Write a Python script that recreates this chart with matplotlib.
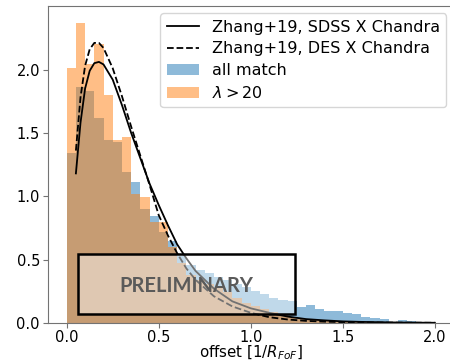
import numpy as np
import matplotlib
matplotlib.use('Agg')
import matplotlib.pyplot as plt
from matplotlib.patches import Rectangle

# histogram bins: 0 .. 2.0, width 0.05 (density values)
bin_edges = np.linspace(0.0, 2.0, 41)
all_match = [1.34, 1.86, 1.83, 1.62, 1.44, 1.43, 1.19, 1.11, 0.90, 0.84,
             0.72, 0.645, 0.53, 0.46, 0.42, 0.39, 0.36, 0.34, 0.31, 0.28,
             0.25, 0.225, 0.20, 0.18, 0.17, 0.124, 0.142, 0.108, 0.094, 0.094,
             0.081, 0.068, 0.045, 0.04, 0.029, 0.01, 0.024, 0.016, 0.008, 0.005]
lam20 = [2.01, 2.37, 2.045, 2.20, 1.80, 1.44, 1.47, 1.02, 0.99, 0.80,
         0.80, 0.60, 0.47, 0.38, 0.34, 0.31, 0.28, 0.24, 0.20, 0.16,
         0.13, 0.11, 0.09, 0.06, 0.045, 0.03, 0.025, 0.02, 0.015, 0.01,
         0.008, 0.006, 0.004, 0.003, 0.002, 0.002, 0.0, 0.0, 0.0, 0.0]

# Zhang+19 model curves
model_x = [0.05, 0.075, 0.10, 0.125, 0.15, 0.175, 0.20, 0.25, 0.30, 0.35,
           0.40, 0.45, 0.50, 0.55, 0.60, 0.65, 0.70, 0.80, 0.90, 1.00,
           1.10, 1.20, 1.30, 1.40, 1.50, 1.60, 1.80, 2.00]
sdss_y = [1.18, 1.58, 1.85, 1.99, 2.05, 2.06, 2.04, 1.92, 1.72, 1.50,
          1.30, 1.10, 0.93, 0.77, 0.62, 0.51, 0.41, 0.27, 0.17, 0.115,
          0.08, 0.05, 0.03, 0.02, 0.012, 0.008, 0.003, 0.001]
des_y = [1.36, 1.78, 2.03, 2.16, 2.21, 2.21, 2.17, 2.01, 1.79, 1.55,
         1.32, 1.09, 0.85, 0.69, 0.55, 0.43, 0.34, 0.21, 0.13, 0.08,
         0.045, 0.027, 0.016, 0.01, 0.006, 0.004, 0.002, 0.001]

fig = plt.figure(figsize=(4.5, 3.62), dpi=100)
ax = fig.add_axes([0.1073, 0.108, 0.9, 0.875])

ax.plot(model_x, sdss_y, color='k', lw=1.3, label='Zhang+19, SDSS X Chandra')
ax.plot(model_x, des_y, color='k', lw=1.3, ls='--', label='Zhang+19, DES X Chandra')
ax.stairs(all_match, bin_edges, fill=True, color='#1f77b4', alpha=0.5, label='all match')
ax.stairs(lam20, bin_edges, fill=True, color='#ff7f0e', alpha=0.5, label=r'$\lambda > 20$')

ax.set_xlim(-0.1, 2.1)
ax.set_ylim(0, 2.5)
ax.set_xticks([0.0, 0.5, 1.0, 1.5, 2.0])
ax.set_yticks([0.0, 0.5, 1.0, 1.5, 2.0])
ax.tick_params(labelsize=10.5, color='0.45', pad=2.5)
ax.tick_params(axis='x', pad=1.5)
for s in ax.spines.values():
    s.set_color('0.45')
ax.set_xlabel(r'offset [1/$R_{FoF}$]', fontsize=10.8, labelpad=-1)

ax.legend(loc='upper right', fontsize=11.5, handlelength=2.0, labelspacing=0.42,
          borderaxespad=0.45)

# "PRELIMINARY" stamp
box = Rectangle((0.06, 0.07), 1.18, 0.475, facecolor='white', alpha=0.45,
                edgecolor='none', zorder=5)
ax.add_patch(box)
ax.add_patch(Rectangle((0.06, 0.07), 1.18, 0.475, fill=False, edgecolor='k',
                       lw=1.8, zorder=6))
ax.text(0.65, 0.295, 'PRELIMINARY', fontsize=14.5, fontweight='bold',
        family='Lato', color='#5a5a5a', ha='center', va='center', zorder=7)

fig.savefig('out.png', dpi=100)
